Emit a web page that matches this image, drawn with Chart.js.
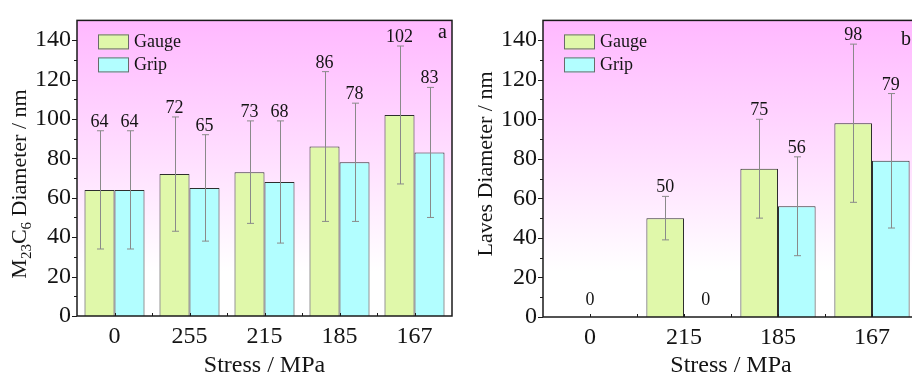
<!DOCTYPE html>
<html><head><meta charset="utf-8">
<script src="https://cdn.jsdelivr.net/npm/chart.js@4/dist/chart.umd.min.js"></script>
<style>
html,body{margin:0;padding:0;background:#fff;overflow:hidden;width:912px;height:376px}
#wrap{position:relative;width:912px;height:376px;overflow:hidden}
#box1{position:absolute;left:0;top:0;width:460px;height:376px}
#box2{position:absolute;left:460px;top:0;width:470px;height:376px}
</style></head><body>
<div id="wrap">
<div id="box1"><canvas id="c1" width="460" height="376"></canvas></div>
<div id="box2"><canvas id="c2" width="470" height="376"></canvas></div>
</div>
<script>
// ---------- data ----------
const m23Categories = ['0', '255', '215', '185', '167'];
const m23Gauge      = [64, 72, 73, 86, 102];
const m23Grip       = [64, 65, 68, 78, 83];
const m23GaugeErr   = [30, 29, 26, 38, 35];
const m23GripErr    = [30, 27, 31, 30, 33];

const lavesCategories = ['0', '215', '185', '167'];
const lavesGauge      = [0, 50, 75, 98];
const lavesGrip       = [0, 0, 56, 79];
const lavesGaugeErr   = [0, 11, 25, 40];
const lavesGripErr    = [0, 0, 25, 34];

const yTickValues  = [0, 20, 40, 60, 80, 100, 120, 140];
const yMinorValues = [10, 30, 50, 70, 90, 110, 130];
const seriesNames  = ['Gauge', 'Grip'];
const xTitle = 'Stress / MPa';
const m23YTitle   = [['M', false], ['23', true], ['C', false], ['6', true], [' Diameter / nm', false]];
const lavesYTitle = [['Laves Diameter / nm', false]];

// ---------- style ----------
const SERIF = "'Liberation Serif','Times New Roman','DejaVu Serif',serif";
const GAUGE_COLOR = '#e0f8aa';
const GRIP_COLOR  = '#b2feff';
const BAR_BORDER  = '#2e2e2e';
const AXIS_COLOR  = '#1a1a1a';
const TEXT_COLOR  = '#141414';

function decor(opt) {
  return {
    id: 'decor',
    beforeDraw(chart) {
      const {ctx, chartArea: a} = chart;
      const g = ctx.createLinearGradient(0, a.top, 0, a.bottom);
      g.addColorStop(0, '#ffb8ff');
      g.addColorStop(0.4, '#ffd9ff');
      g.addColorStop(0.85, '#ffffff');
      g.addColorStop(1, '#ffffff');
      ctx.save();
      ctx.fillStyle = g;
      ctx.fillRect(a.left, a.top, a.right - a.left, a.bottom - a.top);
      ctx.restore();
    },
    afterDatasetsDraw(chart) {
      const {ctx, chartArea: a, scales: {x: xs, y: ys}} = chart;
      const ds = chart.data.datasets;
      ctx.save();
      // error bars
      ctx.strokeStyle = '#8a8a8a';
      ctx.lineWidth = 1;
      ds.forEach((d, i) => {
        const meta = chart.getDatasetMeta(i);
        meta.data.forEach((bar, j) => {
          const v = d.data[j], e = d.errors[j];
          if (!e) return;
          const yt = ys.getPixelForValue(v + e), yb = ys.getPixelForValue(v - e);
          const x = Math.round(bar.x) + 0.5;
          ctx.beginPath();
          ctx.moveTo(x, yt); ctx.lineTo(x, yb);
          ctx.moveTo(x - 3.5, yt); ctx.lineTo(x + 3.5, yt);
          ctx.moveTo(x - 3.5, yb); ctx.lineTo(x + 3.5, yb);
          ctx.stroke();
        });
      });
      // value labels
      ctx.fillStyle = TEXT_COLOR;
      ctx.font = '18px ' + SERIF;
      ctx.textAlign = 'center';
      ctx.textBaseline = 'alphabetic';
      const zero = ys.getPixelForValue(0);
      chart.data.labels.forEach((c, j) => {
        const allZero = ds.every(d => d.data[j] === 0);
        if (allZero) {
          ctx.fillText('0', xs.getPixelForValue(j), zero - 12);
          return;
        }
        ds.forEach((d, i) => {
          const bar = chart.getDatasetMeta(i).data[j];
          const v = d.data[j], e = d.errors[j];
          const y = (v === 0) ? zero - 12 : ys.getPixelForValue(v + e) - 4;
          ctx.fillText(String(v), bar.x + (v === 0 ? 3 : 0), y);
        });
      });
      // frame
      ctx.strokeStyle = AXIS_COLOR;
      ctx.lineWidth = 1.5;
      ctx.strokeRect(a.left, a.top, a.right - a.left, a.bottom - a.top);
      // y ticks (outward)
      ctx.lineWidth = 1;
      ctx.beginPath();
      yTickValues.forEach(v => {
        const y = Math.round(ys.getPixelForValue(v)) + 0.5;
        ctx.moveTo(a.left - 5, y); ctx.lineTo(a.left, y);
      });
      yMinorValues.forEach(v => {
        const y = Math.round(ys.getPixelForValue(v)) + 0.5;
        ctx.moveTo(a.left - 3, y); ctx.lineTo(a.left, y);
      });
      // x ticks (inward) at centres and boundaries
      const n = chart.data.labels.length;
      for (let j = 0; j < n; j++) {
        const xc = Math.round(xs.getPixelForValue(j)) + 0.5;
        ctx.moveTo(xc, a.bottom); ctx.lineTo(xc, a.bottom - 3);
        if (j < n - 1) {
          const xb = Math.round((xs.getPixelForValue(j) + xs.getPixelForValue(j + 1)) / 2) + 0.5;
          ctx.moveTo(xb, a.bottom); ctx.lineTo(xb, a.bottom - 3);
        }
      }
      ctx.stroke();
      // legend
      ctx.font = '18px ' + SERIF;
      ctx.textAlign = 'left';
      ctx.textBaseline = 'middle';
      ds.forEach((d, i) => {
        const bx = a.left + 21, by = a.top + 14 + i * 23;
        ctx.fillStyle = d.backgroundColor;
        ctx.fillRect(bx, by, 31, 15);
        ctx.strokeStyle = '#6a6a6a';
        ctx.lineWidth = 1;
        ctx.strokeRect(bx + 0.5, by + 0.5, 30, 14);
        ctx.fillStyle = TEXT_COLOR;
        ctx.fillText(d.label, bx + 36, by + 8);
      });
      // panel letter
      ctx.font = '20px ' + SERIF;
      ctx.textBaseline = 'alphabetic';
      ctx.fillText(opt.letter, a.right - opt.letterDx, a.top + opt.letterDy);
      // y title with subscripts
      ctx.translate(opt.titleX, opt.titleY);
      ctx.rotate(-Math.PI / 2);
      let w = 0;
      opt.yTitle.forEach(([t, sub]) => { ctx.font = (sub ? '15px ' : '22px ') + SERIF; w += ctx.measureText(t).width; });
      let cx = -w / 2;
      opt.yTitle.forEach(([t, sub]) => {
        ctx.font = (sub ? '15px ' : '22px ') + SERIF;
        ctx.fillText(t, cx, sub ? 5 : 0);
        cx += ctx.measureText(t).width;
      });
      ctx.restore();
    }
  };
}

function makeChart(id, cats, gauge, grip, gErr, pErr, opt) {
  return new Chart(document.getElementById(id), {
    type: 'bar',
    data: {
      labels: cats,
      datasets: [
        {label: seriesNames[0], data: gauge, errors: gErr, backgroundColor: GAUGE_COLOR,
         borderColor: BAR_BORDER, borderWidth: 1, categoryPercentage: 0.8, barPercentage: 1.0},
        {label: seriesNames[1], data: grip, errors: pErr, backgroundColor: GRIP_COLOR,
         borderColor: BAR_BORDER, borderWidth: 1, categoryPercentage: 0.8, barPercentage: 1.0}
      ]
    },
    options: {
      responsive: false,
      animation: false,
      layout: {padding: {left: 0, right: opt.padRight, top: opt.padTop, bottom: 0}},
      plugins: {legend: {display: false}, tooltip: {enabled: false}},
      scales: {
        x: {
          grid: {display: false, drawTicks: false},
          border: {display: false},
          ticks: {font: {family: SERIF, size: 24}, color: TEXT_COLOR, padding: 6, maxRotation: 0},
          title: {display: true, text: xTitle, color: TEXT_COLOR,
                  font: {family: SERIF, size: 24, lineHeight: 1}, padding: {top: 0, bottom: -2}},
          afterFit(s) { s.height = opt.xHeight; }
        },
        y: {
          min: 0, max: 150,
          grid: {display: false, drawTicks: false},
          border: {display: false},
          ticks: {font: {family: SERIF, size: 24}, color: TEXT_COLOR, padding: 6},
          afterBuildTicks(s) { s.ticks = yTickValues.map(v => ({value: v})); },
          afterFit(s) { s.width = opt.yWidth; }
        }
      }
    },
    plugins: [decor(opt)]
  });
}

makeChart('c1', m23Categories, m23Gauge, m23Grip, m23GaugeErr, m23GripErr,
  {padRight: 8, padTop: 11, xHeight: 60, yWidth: 77, letter: 'a', letterDx: 14, letterDy: 18,
   yTitle: m23YTitle, titleX: 26, titleY: 184});
makeChart('c2', lavesCategories, lavesGauge, lavesGrip, lavesGaugeErr, lavesGripErr,
  {padRight: 11, padTop: 13, xHeight: 59, yWidth: 83, letter: 'b', letterDx: 18, letterDy: 25,
   yTitle: lavesYTitle, titleX: 32, titleY: 164});
</script>
</body></html>
